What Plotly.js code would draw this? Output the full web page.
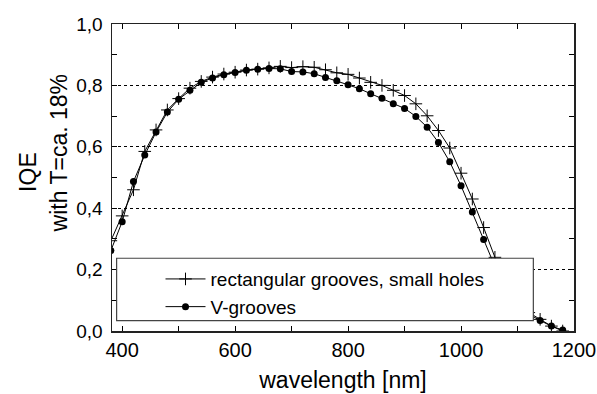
<!DOCTYPE html>
<html>
<head>
<meta charset="utf-8">
<script src="https://cdn.plot.ly/plotly-3.0.1.min.js"></script>
<style>
html,body{margin:0;padding:0;background:#fff;}
#chart{width:597px;height:394px;}
</style>
</head>
<body>
<div id="chart"></div>
<script>
// wavelength in nm
const wavelength = [380, 400, 420, 440, 460, 480, 500, 520, 540, 560, 580, 600, 620, 640, 660, 680, 700, 720, 740, 760, 780, 800, 820, 840, 860, 880, 900, 920, 940, 960, 980, 1000, 1020, 1040, 1060, 1080, 1100, 1120, 1140, 1160, 1180];
// IQE, rectangular grooves, small holes
const iqeRect = [0.294, 0.375, 0.460, 0.585, 0.655, 0.720, 0.757, 0.791, 0.813, 0.827, 0.837, 0.843, 0.850, 0.853, 0.857, 0.862, 0.858, 0.861, 0.859, 0.851, 0.841, 0.836, 0.824, 0.810, 0.800, 0.784, 0.767, 0.740, 0.701, 0.653, 0.596, 0.514, 0.430, 0.337, 0.240, 0.160, 0.100, 0.060, 0.038, 0.016, 0.000];
// IQE, V-grooves
const iqeV = [0.262, 0.356, 0.487, 0.573, 0.648, 0.713, 0.755, 0.784, 0.810, 0.824, 0.835, 0.842, 0.849, 0.853, 0.855, 0.854, 0.845, 0.844, 0.838, 0.826, 0.815, 0.802, 0.789, 0.773, 0.758, 0.740, 0.725, 0.699, 0.664, 0.614, 0.551, 0.473, 0.388, 0.298, 0.210, 0.140, 0.090, 0.055, 0.034, 0.016, 0.003];

const seriesNames = ["rectangular grooves, small holes", "V-grooves"];
const xTitle = "wavelength [nm]";
const yTitleLines = ["IQE", "with T=ca. 18%"];

const font = "Liberation Sans, Arial, sans-serif";

const traces = [
  {
    x: wavelength, y: iqeRect, name: seriesNames[0], type: "scatter", mode: "lines+markers",
    line: {color: "#000", width: 1},
    marker: {symbol: "cross-thin", size: 9, color: "#000", line: {color: "#000", width: 1}}
  },
  {
    x: wavelength, y: iqeV, name: seriesNames[1], type: "scatter", mode: "lines+markers",
    line: {color: "#000", width: 1},
    marker: {symbol: "circle", size: 7, color: "#000"}
  }
];

const layout = {
  width: 597, height: 394,
  margin: {l: 112, r: 23, t: 24, b: 63},
  paper_bgcolor: "#fff", plot_bgcolor: "#fff",
  separators: ", ",
  font: {family: font, size: 19, color: "#000"},
  showlegend: true,
  legend: {
    x: 0.105, y: 0.231, xanchor: "left", yanchor: "top",
    bgcolor: "rgba(0,0,0,0)", borderwidth: 0,
    font: {family: font, size: 19, color: "#000"},
    tracegroupgap: 0, itemwidth: 40
  },
  xaxis: {
    range: [382, 1200], tickmode: "linear", tick0: 400, dtick: 200,
    ticks: "inside", ticklen: 5, tickwidth: 1, tickcolor: "#000",
    minor: {dtick: 100, ticks: "inside", ticklen: 5, tickwidth: 1, tickcolor: "#000", showgrid: false},
    showline: true, linecolor: "#222", linewidth: 1.5, mirror: "ticks",
    showgrid: false, zeroline: false,
    tickfont: {family: font, size: 20, color: "#000"},
    title: {text: xTitle, font: {family: font, size: 23, color: "#000"}, standoff: 12}
  },
  yaxis: {
    range: [0, 1], tickmode: "linear", tick0: 0, dtick: 0.2, tickformat: ".1f",
    ticks: "inside", ticklen: 5, tickwidth: 1, tickcolor: "#000",
    minor: {dtick: 0.1, ticks: "inside", ticklen: 5, tickwidth: 1, tickcolor: "#000", showgrid: false},
    showline: true, linecolor: "#222", linewidth: 1.5, mirror: "ticks",
    showgrid: true, gridcolor: "#000", gridwidth: 1, griddash: "dot",
    zeroline: false, ticklabelstandoff: 4,
    tickfont: {family: font, size: 19, color: "#000"}
  },
  annotations: [
    {text: yTitleLines[0], xref: "paper", yref: "paper", x: -0.182, y: 0.518, xanchor: "center", yanchor: "middle",
     textangle: -90, showarrow: false, font: {family: font, size: 23, color: "#000"}},
    {text: yTitleLines[1], xref: "paper", yref: "paper", x: -0.115, y: 0.578, xanchor: "center", yanchor: "middle",
     textangle: -90, showarrow: false, font: {family: font, size: 23, color: "#000"}}
  ],
  shapes: [
    {type: "rect", xref: "paper", yref: "paper", x0: 0.010, x1: 0.912, y0: 0.034, y1: 0.237,
     fillcolor: "#fff", line: {color: "#444", width: 1.2}, layer: "above"}
  ]
};

Plotly.newPlot("chart", traces, layout, {displayModeBar: false, staticPlot: true});
</script>
</body>
</html>
